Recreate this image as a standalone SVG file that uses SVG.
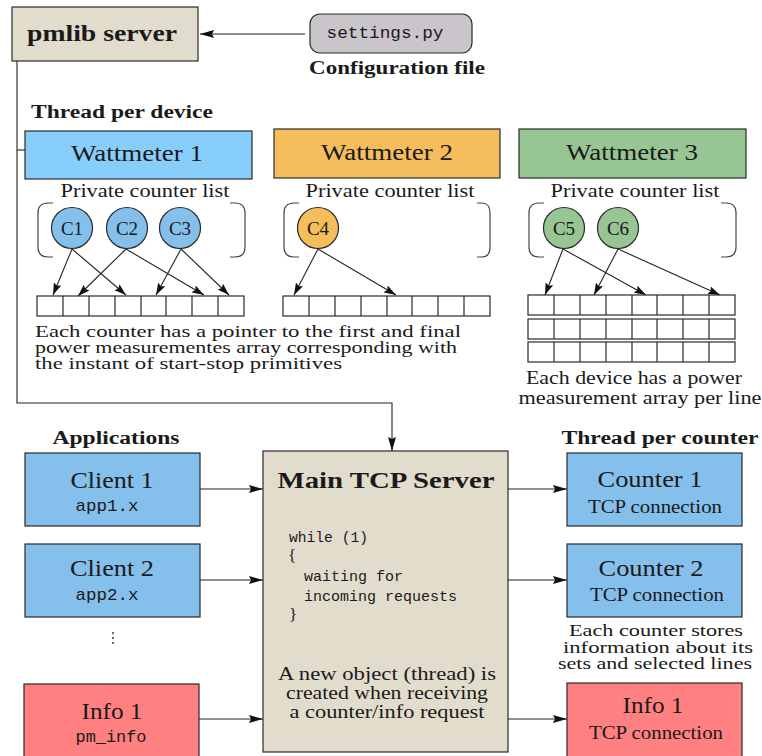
<svg xmlns="http://www.w3.org/2000/svg" width="762" height="756" viewBox="0 0 762 756">
  <style>
    .box { stroke: #2a2a2a; stroke-width: 1.2; }
    .tan { fill: #e2dccd; }
    .blue { fill: #85bfeb; }
    .sky { fill: #87cefa; }
    .orange { fill: #f5bd5b; }
    .green { fill: #97c594; }
    .red { fill: #ff8080; }
    .cell { fill: #ffffff; stroke: #2a2a2a; stroke-width: 1.2; }
    .br { fill: none; stroke: #444; stroke-width: 1.2; }
    .ln { fill: none; stroke: #222; stroke-width: 1.1; }
    .t { font-family: "Liberation Serif", "Times New Roman", serif; fill: #1a1a1a; }
    .b { font-weight: bold; }
    .m { font-family: "Liberation Mono", "Courier New", monospace; fill: #1a1a1a; }
    .c { text-anchor: middle; }
  </style>
  <defs>
    <marker id="ah" viewBox="0 0 14 8" refX="14" refY="4" markerWidth="14" markerHeight="8" markerUnits="userSpaceOnUse" orient="auto">
      <path d="M0,0 L14,4 L0,8 L2,4 z" fill="#111"/>
    </marker>
    <marker id="as" viewBox="0 0 12 8" refX="12" refY="4" markerWidth="12" markerHeight="8" markerUnits="userSpaceOnUse" orient="auto">
      <path d="M0,0 L12,4 L0,8 L2,4 z" fill="#111"/>
    </marker>
    <!-- one row of eight cells -->
    <g id="row">
      <rect class="cell" x="0" y="0" width="207" height="20"/>
      <path class="cell" d="M26,0 V20 M52,0 V20 M78,0 V20 M104,0 V20 M129,0 V20 M155,0 V20 M181,0 V20"/>
    </g>
  </defs>

  <rect width="762" height="756" fill="#ffffff"/>

  <!-- connectors -->
  <g id="connectors">
    <path class="ln" d="M305,34 H200" marker-end="url(#ah)"/>
    <path class="ln" stroke="#444" d="M17,61 V403 H392 V451" marker-end="url(#ah)"/>
    <path class="ln" d="M17,150 H25"/>
    <!-- counter pointers into the measurement arrays -->
    <path class="ln" d="M72,249 L53,295" marker-end="url(#as)"/>
    <path class="ln" d="M72,249 L126,295" marker-end="url(#as)"/>
    <path class="ln" d="M126,249 L78,296" marker-end="url(#as)"/>
    <path class="ln" d="M126,249 L204,295" marker-end="url(#as)"/>
    <path class="ln" d="M181,249 L156,295" marker-end="url(#as)"/>
    <path class="ln" d="M181,249 L229,295" marker-end="url(#as)"/>
    <path class="ln" d="M318,249 L294,295" marker-end="url(#as)"/>
    <path class="ln" d="M318,249 L396,295" marker-end="url(#as)"/>
    <path class="ln" d="M563,249 L545,295" marker-end="url(#as)"/>
    <path class="ln" d="M563,249 L646,295" marker-end="url(#as)"/>
    <path class="ln" d="M618,249 L594,295" marker-end="url(#as)"/>
    <path class="ln" d="M618,249 L720,295" marker-end="url(#as)"/>
    <!-- requests into and threads out of the TCP server -->
    <path class="ln" d="M200,489 H263" marker-end="url(#ah)"/>
    <path class="ln" d="M200,580 H263" marker-end="url(#ah)"/>
    <path class="ln" d="M199,719 H263" marker-end="url(#ah)"/>
    <path class="ln" d="M508,489 H567" marker-end="url(#ah)"/>
    <path class="ln" d="M508,580 H567" marker-end="url(#ah)"/>
    <path class="ln" d="M508,719 H567" marker-end="url(#ah)"/>
  </g>

  <g id="pmlib-server">
    <rect class="box tan" x="12" y="7" width="186" height="54"/>
    <text class="t b c" x="102" y="41" font-size="24" textLength="150" lengthAdjust="spacingAndGlyphs">pmlib server</text>
  </g>

  <g id="settings">
    <rect class="box" fill="#c9c5cb" x="310" y="14" width="162" height="39" rx="10"/>
    <text class="m c" x="385" y="38" font-size="17" textLength="117" lengthAdjust="spacingAndGlyphs">settings.py</text>
    <text class="t b c" x="397" y="74" font-size="18" textLength="176" lengthAdjust="spacingAndGlyphs">Configuration file</text>
  </g>

  <text class="t b" x="31" y="118" font-size="18" textLength="182" lengthAdjust="spacingAndGlyphs">Thread per device</text>

  <g id="wattmeter-1">
    <rect class="box sky" x="25" y="131" width="227" height="48"/>
    <text class="t c" x="137" y="161" font-size="23" textLength="132" lengthAdjust="spacingAndGlyphs">Wattmeter 1</text>
    <text class="t c" x="145" y="197" font-size="19" textLength="169" lengthAdjust="spacingAndGlyphs">Private counter list</text>
    <path class="br" d="M53,203 H48 Q38,203 38,213 V247 Q38,257 48,257 H53"/>
    <path class="br" d="M230,203 H235 Q245,203 245,213 V247 Q245,257 235,257 H230"/>
    <use href="#row" x="37" y="296"/>
  </g>

  <g id="wattmeter-2">
    <rect class="box orange" x="274" y="129" width="226" height="49"/>
    <text class="t c" x="387" y="160" font-size="23" textLength="132" lengthAdjust="spacingAndGlyphs">Wattmeter 2</text>
    <text class="t c" x="390" y="197" font-size="19" textLength="169" lengthAdjust="spacingAndGlyphs">Private counter list</text>
    <path class="br" d="M299,203 H294 Q284,203 284,213 V247 Q284,257 294,257 H299"/>
    <path class="br" d="M477,203 H482 Q490,203 490,213 V247 Q490,257 482,257 H477"/>
    <use href="#row" x="283" y="296"/>
  </g>

  <g id="wattmeter-3">
    <rect class="box green" x="519" y="129" width="227" height="49"/>
    <text class="t c" x="632" y="160" font-size="23" textLength="132" lengthAdjust="spacingAndGlyphs">Wattmeter 3</text>
    <text class="t c" x="635" y="197" font-size="19" textLength="169" lengthAdjust="spacingAndGlyphs">Private counter list</text>
    <path class="br" d="M544,203 H539 Q529,203 529,213 V247 Q529,257 539,257 H544"/>
    <path class="br" d="M721,203 H726 Q736,203 736,213 V247 Q736,257 726,257 H721"/>
    <use href="#row" x="528" y="295"/>
    <use href="#row" x="528" y="319"/>
    <use href="#row" x="528" y="342"/>
  </g>

  <g id="counter-c1">
    <circle class="box" fill="#85bfeb" cx="72" cy="228" r="20.5"/>
    <text class="t c" x="72" y="235" font-size="19">C1</text>
  </g>
  <g id="counter-c2">
    <circle class="box" fill="#85bfeb" cx="127" cy="228" r="20.5"/>
    <text class="t c" x="127" y="235" font-size="19">C2</text>
  </g>
  <g id="counter-c3">
    <circle class="box" fill="#85bfeb" cx="180" cy="228" r="20.5"/>
    <text class="t c" x="180" y="235" font-size="19">C3</text>
  </g>
  <g id="counter-c4">
    <circle class="box orange" cx="318" cy="228" r="20.5"/>
    <text class="t c" x="318" y="235" font-size="19">C4</text>
  </g>
  <g id="counter-c5">
    <circle class="box green" cx="564" cy="228" r="20.5"/>
    <text class="t c" x="564" y="235" font-size="19">C5</text>
  </g>
  <g id="counter-c6">
    <circle class="box green" cx="618" cy="228" r="20.5"/>
    <text class="t c" x="618" y="235" font-size="19">C6</text>
  </g>

  <g id="pointer-note">
    <text class="t" x="35" y="337" font-size="17" textLength="426" lengthAdjust="spacingAndGlyphs">Each counter has a pointer to the first and final</text>
    <text class="t" x="35" y="353" font-size="17" textLength="422" lengthAdjust="spacingAndGlyphs">power measurementes array corresponding with</text>
    <text class="t" x="35" y="369" font-size="17" textLength="307" lengthAdjust="spacingAndGlyphs">the instant of start-stop primitives</text>
  </g>

  <g id="array-note">
    <text class="t c" x="634" y="384" font-size="19" textLength="216" lengthAdjust="spacingAndGlyphs">Each device has a power</text>
    <text class="t c" x="640" y="404" font-size="19" textLength="243" lengthAdjust="spacingAndGlyphs">measurement array per line</text>
  </g>

  <text class="t b c" x="116" y="444" font-size="18" textLength="127" lengthAdjust="spacingAndGlyphs">Applications</text>
  <text class="t b c" x="660" y="444" font-size="18" textLength="197" lengthAdjust="spacingAndGlyphs">Thread per counter</text>

  <g id="client-1">
    <rect class="box blue" x="25" y="453" width="175" height="73"/>
    <text class="t c" x="112" y="488" font-size="23" textLength="83" lengthAdjust="spacingAndGlyphs">Client 1</text>
    <text class="m c" x="107" y="511" font-size="17" textLength="63" lengthAdjust="spacingAndGlyphs">app1.x</text>
  </g>

  <g id="client-2">
    <rect class="box blue" x="25" y="544" width="175" height="73"/>
    <text class="t c" x="112" y="576" font-size="23" textLength="84" lengthAdjust="spacingAndGlyphs">Client 2</text>
    <text class="m c" x="107" y="600" font-size="17" textLength="63" lengthAdjust="spacingAndGlyphs">app2.x</text>
  </g>

  <g id="more-clients">
    <circle cx="113" cy="633" r="0.9" fill="#222"/>
    <circle cx="113" cy="638" r="0.9" fill="#222"/>
    <circle cx="113" cy="643" r="0.9" fill="#222"/>
  </g>

  <g id="info-client">
    <rect class="box red" x="24" y="684" width="175" height="80"/>
    <text class="t c" x="112" y="719" font-size="23" textLength="61" lengthAdjust="spacingAndGlyphs">Info 1</text>
    <text class="m c" x="111" y="742" font-size="17" textLength="71" lengthAdjust="spacingAndGlyphs">pm_info</text>
  </g>

  <g id="main-tcp-server">
    <rect class="box tan" x="263" y="451" width="245" height="301"/>
    <text class="t b c" x="386" y="488" font-size="24" textLength="217" lengthAdjust="spacingAndGlyphs">Main TCP Server</text>
    <text class="m" x="289" y="542" font-size="15" textLength="79" lengthAdjust="spacingAndGlyphs">while (1)</text>
    <text class="t" x="288" y="561" font-size="17">{</text>
    <text class="m" x="304" y="581" font-size="15" textLength="99" lengthAdjust="spacingAndGlyphs">waiting for</text>
    <text class="m" x="304" y="601" font-size="15" textLength="153" lengthAdjust="spacingAndGlyphs">incoming requests</text>
    <text class="t" x="289" y="620" font-size="17">}</text>
    <text class="t c" x="387" y="680" font-size="19" textLength="218" lengthAdjust="spacingAndGlyphs">A new object (thread) is</text>
    <text class="t c" x="387" y="699" font-size="19" textLength="202" lengthAdjust="spacingAndGlyphs">created when receiving</text>
    <text class="t c" x="387" y="718" font-size="19" textLength="195" lengthAdjust="spacingAndGlyphs">a counter/info request</text>
  </g>

  <g id="counter-1">
    <rect class="box blue" x="567" y="453" width="175" height="73"/>
    <text class="t c" x="650" y="487" font-size="23" textLength="105" lengthAdjust="spacingAndGlyphs">Counter 1</text>
    <text class="t c" x="655" y="513" font-size="18" textLength="134" lengthAdjust="spacingAndGlyphs">TCP connection</text>
  </g>

  <g id="counter-2">
    <rect class="box blue" x="567" y="544" width="175" height="73"/>
    <text class="t c" x="651" y="576" font-size="23" textLength="105" lengthAdjust="spacingAndGlyphs">Counter 2</text>
    <text class="t c" x="657" y="601" font-size="18" textLength="134" lengthAdjust="spacingAndGlyphs">TCP connection</text>
  </g>

  <g id="counter-note">
    <text class="t c" x="656" y="636" font-size="17" textLength="174" lengthAdjust="spacingAndGlyphs">Each counter stores</text>
    <text class="t c" x="658" y="653" font-size="17" textLength="190" lengthAdjust="spacingAndGlyphs">information about its</text>
    <text class="t c" x="655" y="669" font-size="17" textLength="194" lengthAdjust="spacingAndGlyphs">sets and selected lines</text>
  </g>

  <g id="info-thread">
    <rect class="box red" x="567" y="683" width="175" height="80"/>
    <text class="t c" x="653" y="713" font-size="23" textLength="61" lengthAdjust="spacingAndGlyphs">Info 1</text>
    <text class="t c" x="656" y="739" font-size="18" textLength="134" lengthAdjust="spacingAndGlyphs">TCP connection</text>
  </g>
</svg>
